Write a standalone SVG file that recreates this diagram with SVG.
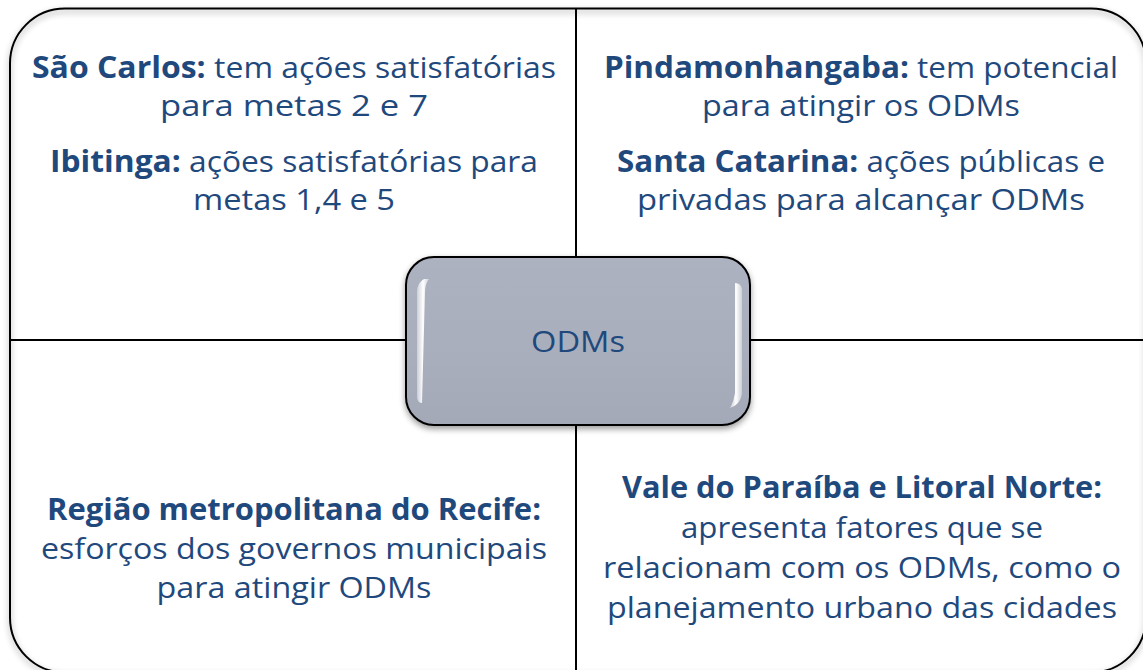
<svg xmlns="http://www.w3.org/2000/svg" width="1143" height="670" viewBox="0 0 1143 670">
  <defs>
    <style>
      .t { font-family: "Open Sans", "Liberation Sans", sans-serif; font-size: 30px; fill: #1F497D; text-anchor: middle; }
      .b { font-weight: 700; }
      .line { stroke: #000; stroke-width: 2; fill: none; }
    </style>
    <linearGradient id="boxFill" x1="0" y1="0" x2="0" y2="1">
      <stop offset="0" stop-color="#ADB2C0"/>
      <stop offset="0.6" stop-color="#A9AEBC"/>
      <stop offset="1" stop-color="#A4A9B8"/>
    </linearGradient>
    <linearGradient id="gloss" x1="0" y1="0" x2="1" y2="0">
      <stop offset="0" stop-color="#FFFFFF" stop-opacity="0.4"/>
      <stop offset="0.5" stop-color="#FFFFFF" stop-opacity="1"/>
      <stop offset="1" stop-color="#FFFFFF" stop-opacity="0.4"/>
    </linearGradient>
    <filter id="shadow" x="-10%" y="-10%" width="120%" height="130%">
      <feGaussianBlur in="SourceAlpha" stdDeviation="3"/>
      <feOffset dx="0" dy="3" result="o"/>
      <feComponentTransfer><feFuncA type="linear" slope="0.4"/></feComponentTransfer>
      <feMerge><feMergeNode/><feMergeNode in="SourceGraphic"/></feMerge>
    </filter>
    <filter id="soft" x="-50%" y="-10%" width="200%" height="120%">
      <feGaussianBlur stdDeviation="0.7"/>
    </filter>
  </defs>

  <rect width="1143" height="670" fill="#FFFFFF"/>

  <g id="frame">
    <rect x="10" y="8.5" width="1136" height="664" rx="55" ry="55" class="line" filter="url(#shadow)"/>
  </g>

  <g id="connectors">
    <line x1="576" y1="8.5" x2="576" y2="672" class="line"/>
    <line x1="10" y1="340" x2="1146" y2="340" class="line"/>
  </g>

  <g id="q-top-left">
    <text class="t" x="294" y="78" textLength="524" lengthAdjust="spacingAndGlyphs"><tspan class="b">São Carlos:</tspan> tem ações satisfatórias</text>
    <text class="t" x="294" y="116" textLength="268" lengthAdjust="spacingAndGlyphs">para metas 2 e 7</text>
    <text class="t" x="294" y="172" textLength="488" lengthAdjust="spacingAndGlyphs"><tspan class="b">Ibitinga:</tspan> ações satisfatórias para</text>
    <text class="t" x="294" y="210" textLength="202" lengthAdjust="spacingAndGlyphs">metas 1,4 e 5</text>
  </g>

  <g id="q-top-right">
    <text class="t" x="861" y="78" textLength="514" lengthAdjust="spacingAndGlyphs"><tspan class="b">Pindamonhangaba:</tspan> tem potencial</text>
    <text class="t" x="861" y="116" textLength="318" lengthAdjust="spacingAndGlyphs">para atingir os ODMs</text>
    <text class="t" x="861" y="172" textLength="488" lengthAdjust="spacingAndGlyphs"><tspan class="b">Santa Catarina:</tspan> ações públicas e</text>
    <text class="t" x="861" y="210" textLength="448" lengthAdjust="spacingAndGlyphs">privadas para alcançar ODMs</text>
  </g>

  <g id="q-bottom-left">
    <text class="t b" x="294" y="520" textLength="494" lengthAdjust="spacingAndGlyphs">Região metropolitana do Recife:</text>
    <text class="t" x="294" y="559" textLength="506" lengthAdjust="spacingAndGlyphs">esforços dos governos municipais</text>
    <text class="t" x="294" y="598" textLength="275" lengthAdjust="spacingAndGlyphs">para atingir ODMs</text>
  </g>

  <g id="q-bottom-right">
    <text class="t b" x="862" y="498" textLength="480" lengthAdjust="spacingAndGlyphs">Vale do Paraíba e Litoral Norte:</text>
    <text class="t" x="862" y="538" textLength="362" lengthAdjust="spacingAndGlyphs">apresenta fatores que se</text>
    <text class="t" x="862" y="578" textLength="518" lengthAdjust="spacingAndGlyphs">relacionam com os ODMs, como o</text>
    <text class="t" x="862" y="618" textLength="510" lengthAdjust="spacingAndGlyphs">planejamento urbano das cidades</text>
  </g>

  <g id="center-odms">
    <rect x="406" y="257" width="344" height="168" rx="28" ry="28" fill="url(#boxFill)" stroke="#000" stroke-width="2" filter="url(#shadow)"/>
    <path d="M424 279 Q417 283 417 292 L417 398 Q418 403 422 403 L425 292 Q425 284 429 279 Z" fill="url(#gloss)" filter="url(#soft)"/>
    <path d="M735 283 L735 393 Q734 401 730 408 Q740 405 742 394 L742 289 Q741 283 735 283 Z" fill="url(#gloss)" filter="url(#soft)"/>
    <text class="t" x="578" y="352" textLength="94" lengthAdjust="spacingAndGlyphs">ODMs</text>
  </g>
</svg>
